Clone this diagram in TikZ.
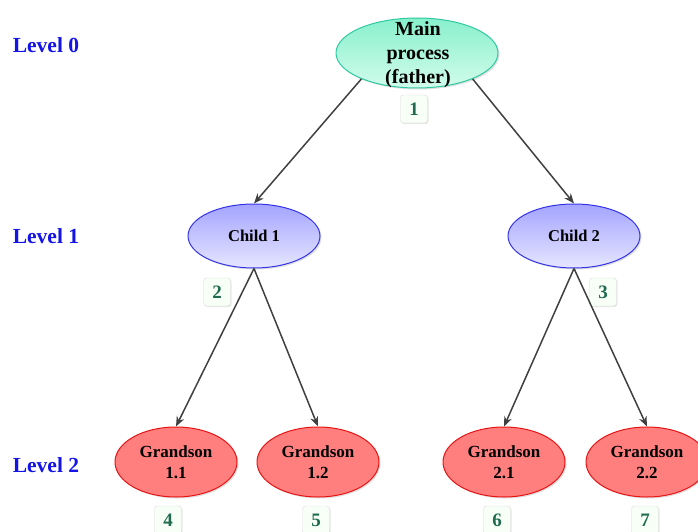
\documentclass[tikz,border=0pt]{standalone}
\usepackage{fontspec}
\setmainfont{Liberation Serif}
\usetikzlibrary{shapes.geometric, arrows.meta, shadows}

\definecolor{mainline}{HTML}{30C8A0}
\definecolor{maintop}{HTML}{88F0CC}
\definecolor{mainbot}{HTML}{D2FCEC}
\definecolor{childline}{HTML}{3434E6}
\definecolor{childtop}{HTML}{A4A4FF}
\definecolor{childbot}{HTML}{E6E6FF}
\definecolor{gsonline}{HTML}{E81414}
\definecolor{gsonfill}{HTML}{FF7F7F}
\definecolor{levelblue}{HTML}{1414E6}
\definecolor{numgreen}{HTML}{1E6B50}
\definecolor{arrowgray}{HTML}{404040}

\tikzset{
  proc/.style={ellipse, inner sep=0pt, line width=1pt,
    drop shadow={opacity=0.25, shadow xshift=1.5pt, shadow yshift=-1.5pt}},
  mainproc/.style={proc, draw=mainline, top color=maintop, bottom color=mainbot,
    minimum width=162pt, minimum height=70pt},
  childproc/.style={proc, draw=childline, top color=childtop, bottom color=childbot,
    minimum width=132pt, minimum height=64pt,
    font=\fontsize{16.5}{20}\selectfont\bfseries},
  gsonproc/.style={proc, draw=gsonline, fill=gsonfill,
    minimum width=122pt, minimum height=70pt, align=center,
    font=\fontsize{17}{21}\selectfont\bfseries},
  numbox/.style={draw={black!15}, fill={green!3!white}, rounded corners=3pt,
    minimum width=27pt, minimum height=28pt, inner sep=0pt, text=numgreen,
    font=\fontsize{19}{20}\selectfont\bfseries,
    drop shadow={opacity=0.2, shadow xshift=1pt, shadow yshift=-1pt}},
  levellabel/.style={text=levelblue, font=\fontsize{21.5}{24}\selectfont\bfseries},
  conn/.style={draw=arrowgray, line width=1.5pt,
    -{Stealth[length=10pt, width=8pt]}}
}

\begin{document}
\begin{tikzpicture}[x=1pt, y=-1pt]
  \useasboundingbox (0,0) rectangle (698,532);
  \clip (0,0) rectangle (698,532);

  % levels
  \node[levellabel] (lev0) at (46,45) {Level 0};
  \node[levellabel] (lev1) at (46,236) {Level 1};
  \node[levellabel] (lev2) at (46,465) {Level 2};

  % processes
  \node[mainproc] (main) at (417,53) {};
  \node[align=center, font=\fontsize{20}{24}\selectfont\bfseries] (maintxt)
    at (418,55) {Main\\process\\(father)};
  \node[childproc] (child1) at (254,236) {Child 1};
  \node[childproc] (child2) at (574,236) {Child 2};
  \node[gsonproc] (gson11) at (176,462) {Grandson\\1.1};
  \node[gsonproc] (gson12) at (318,462) {Grandson\\1.2};
  \node[gsonproc] (gson21) at (504,462) {Grandson\\2.1};
  \node[gsonproc] (gson22) at (647,462) {Grandson\\2.2};

  % order numbers
  \node[numbox] (n1) at (414,109) {1};
  \node[numbox] (n2) at (217,292) {2};
  \node[numbox] (n3) at (603,292) {3};
  \node[numbox] (n4) at (168,520) {4};
  \node[numbox] (n5) at (316,520) {5};
  \node[numbox] (n6) at (497,520) {6};
  \node[numbox] (n7) at (645,520) {7};

  % forks
  \draw[conn] (main.205) -- (child1.north);
  \draw[conn] (main.-25) -- (child2.north);
  \draw[conn] (child1.south) -- (gson11.north);
  \draw[conn] (child1.south) -- (gson12.north);
  \draw[conn] (child2.south) -- (gson21.north);
  \draw[conn] (child2.south) -- (gson22.north);
\end{tikzpicture}
\end{document}
